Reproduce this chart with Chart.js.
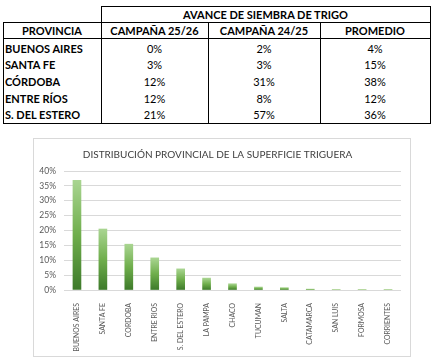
<!DOCTYPE html>
<html><head><meta charset="utf-8">
<script src="https://cdn.jsdelivr.net/npm/chart.js@4/dist/chart.umd.min.js"></script>
<style>
html,body{margin:0;padding:0;background:#fff;width:434px;height:360px;overflow:hidden;font-family:Lato,"Open Sans",sans-serif;}
.ln{position:absolute;background:#000;}
.tx{position:absolute;font-size:11px;line-height:14px;height:14px;white-space:nowrap;color:#000;}
.b{font-weight:bold;}
#box{position:absolute;left:33px;top:138px;width:376px;height:217px;border:1px solid #d9d9d9;}
#box canvas{display:block;}
</style></head><body>
<div id="tbl"></div>
<div id="box"><canvas id="c" width="376" height="217"></canvas></div>
<script>
// ---- Table data ----
const tableTitle = "AVANCE DE SIEMBRA DE TRIGO";
const tableHeaders = ["PROVINCIA", "CAMPAÑA 25/26", "CAMPAÑA 24/25", "PROMEDIO"];
const tableProvinces = ["BUENOS AIRES", "SANTA FE", "CÓRDOBA", "ENTRE RÍOS", "S. DEL ESTERO"];
const campana2526 = [0, 3, 12, 12, 21];
const campana2425 = [2, 3, 31, 8, 57];
const promedio = [4, 15, 38, 12, 36];

// ---- Chart data ----
const chartTitle = "DISTRIBUCIÓN PROVINCIAL DE LA SUPERFICIE TRIGUERA";
const provinces = ["BUENOS AIRES", "SANTA FE", "CORDOBA", "ENTRE RIOS", "S. DEL ESTERO", "LA PAMPA", "CHACO", "TUCUMAN", "SALTA", "CATAMARCA", "SAN LUIS", "FORMOSA", "CORRIENTES"];
const share = [36.9, 20.5, 15.4, 10.8, 7.1, 4.0, 2.1, 1.0, 0.8, 0.3, 0.05, 0.03, 0.02];
const yTicks = [0, 5, 10, 15, 20, 25, 30, 35, 40];

// ---- build table (layout) ----
const tbl = document.getElementById('tbl');
const X = [3, 101, 208, 320, 430];
function line(x, y, w, h) { const d = document.createElement('div'); d.className = 'ln'; d.style.cssText = 'left:' + x + 'px;top:' + y + 'px;width:' + w + 'px;height:' + h + 'px'; tbl.appendChild(d); }
function text(s, cx, cy, bold, align) {
  const d = document.createElement('div'); d.className = 'tx' + (bold ? ' b' : ''); d.textContent = s;
  d.style.top = (cy - 7) + 'px';
  if (align === 'left') { d.style.left = cx + 'px'; }
  else { d.style.left = (cx - 100) + 'px'; d.style.width = '200px'; d.style.textAlign = 'center'; }
  tbl.appendChild(d);
}
line(X[1], 6, X[4] - X[1] + 1, 1);
line(X[0], 22, X[4] - X[0] + 1, 1);
line(X[0], 38, X[4] - X[0] + 1, 1);
line(X[0], 123, X[4] - X[0] + 1, 1);
line(X[0], 22, 1, 102);
line(X[1], 6, 1, 118);
line(X[2], 22, 1, 102);
line(X[3], 22, 1, 102);
line(X[4], 6, 1, 118);
text(tableTitle, (X[1] + X[4]) / 2, 14.5, true);
tableHeaders.forEach((h, i) => text(h, (X[i] + X[i + 1]) / 2, 30.5, true));
const cols = [campana2526, campana2425, promedio];
tableProvinces.forEach((p, r) => {
  const cy = 48.5 + r * 16.7;
  text(p, X[0] + 2, cy, true, 'left');
  cols.forEach((c, j) => text(c[r] + '%', (X[j + 1] + X[j + 2]) / 2, cy, false));
});

// ---- chart ----
function barGradient(ctx) {
  const chart = ctx.chart;
  if (!chart.chartArea || ctx.type !== 'data') return '#70ad47';
  const ys = chart.scales.y;
  const top = ys.getPixelForValue(ctx.raw);
  const base = ys.getPixelForValue(0);
  if (!isFinite(top) || Math.abs(base - top) < 0.5) return '#a9d18e';
  const g = chart.ctx.createLinearGradient(0, top, 0, base);
  g.addColorStop(0, '#a9d591');
  g.addColorStop(0.5, '#6fae4c');
  g.addColorStop(1, '#3d7a2a');
  return g;
}

new Chart(document.getElementById('c'), {
  type: 'bar',
  data: { labels: provinces, datasets: [{ data: share, backgroundColor: barGradient, barThickness: 8 }] },
  options: {
    responsive: false, animation: false,
    layout: { padding: { left: 0, right: 9, top: 0, bottom: 0 } },
    plugins: {
      legend: { display: false }, tooltip: { enabled: false },
      title: { display: true, text: chartTitle, color: '#404040', font: { family: 'Lato', size: 10, weight: 'normal' }, padding: { top: 10, bottom: 10 } }
    },
    scales: {
      x: {
        grid: { display: false }, border: { display: false },
        ticks: { color: '#595959', font: { family: 'Lato', size: 6.9 }, maxRotation: 90, minRotation: 90, padding: 5, autoSkip: false },
        afterFit: s => { s.height = 66; }
      },
      y: {
        min: 0, max: 40,
        afterBuildTicks: s => { s.ticks = yTicks.map(v => ({ value: v })); },
        grid: { color: '#d9d9d9', drawTicks: false }, border: { display: false },
        ticks: { color: '#595959', font: { family: 'Lato', size: 8.5 }, padding: 8, callback: v => v + '%' },
        afterFit: s => { s.width = 30; }
      }
    }
  }
});
</script>
</body></html>
